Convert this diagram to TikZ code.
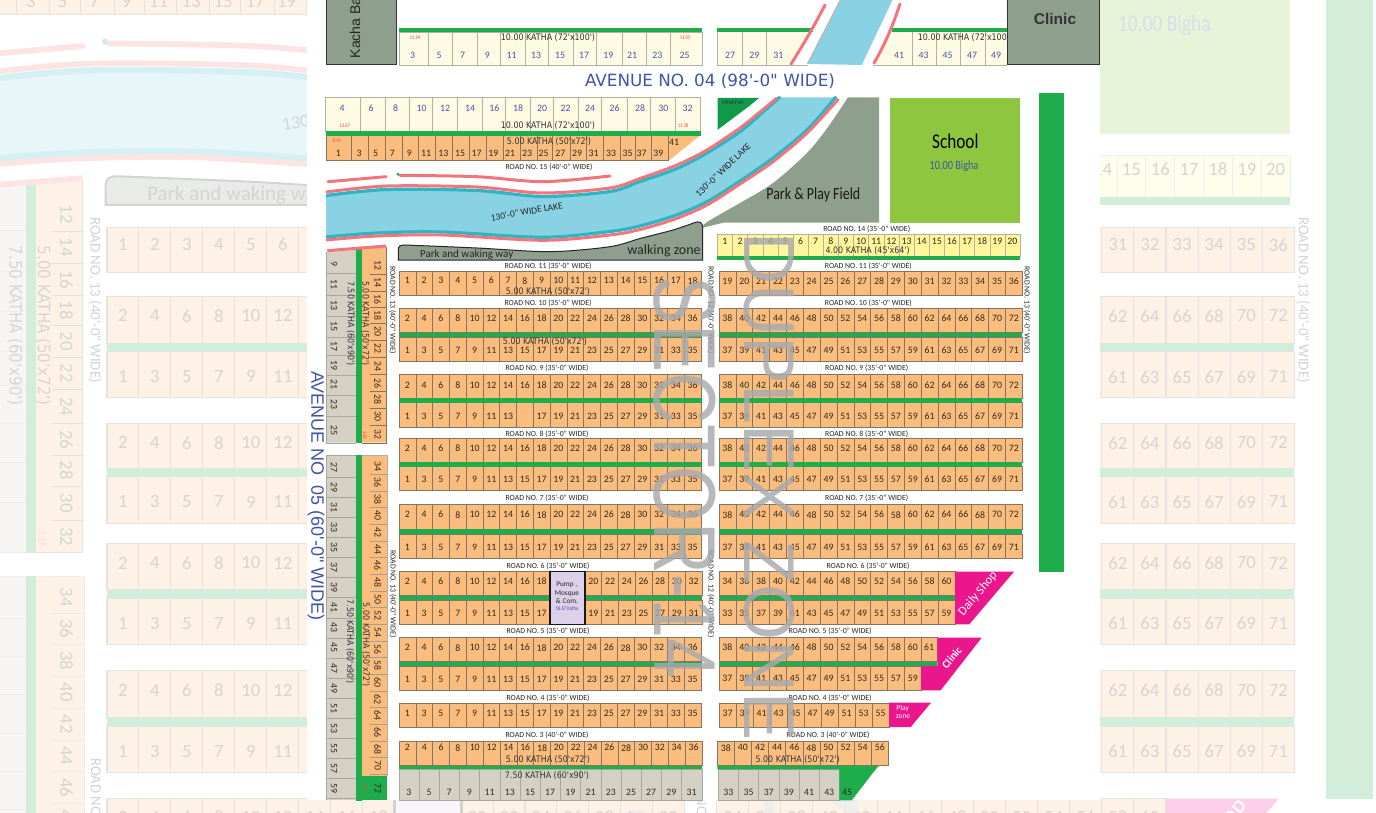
\documentclass[tikz,border=0pt]{standalone}
\usepackage{fontspec}
\newfontfamily\carl{Carlito}
\newfontfamily\carln[FakeStretch=0.82]{Carlito}
\newfontfamily\deja[FakeStretch=0.88]{DejaVu Sans}
\newfontfamily\dejaw{DejaVu Sans}
\newfontfamily\arl{Liberation Sans}
\newfontfamily\arlw[FakeStretch=0.817]{Liberation Sans}
\definecolor{orangec}{HTML}{FBBD7E}
\definecolor{orangeb}{HTML}{85745F}
\definecolor{creamc}{HTML}{FDFBE3}
\definecolor{creamb}{HTML}{B3B2A0}
\definecolor{grayc}{HTML}{D5D0C4}
\definecolor{grayb}{HTML}{A9A69A}
\definecolor{yellowc}{HTML}{FFF59B}
\definecolor{greenc}{HTML}{1FAD4B}
\definecolor{darkgreen}{HTML}{0F9A4A}
\definecolor{parkc}{HTML}{8F9F8E}
\definecolor{schoolc}{HTML}{8FC63F}
\definecolor{lakec}{HTML}{88D2E3}
\definecolor{tealc}{HTML}{2DB5C2}
\definecolor{pinkl}{HTML}{F2757B}
\definecolor{magc}{HTML}{EC168C}
\definecolor{lavc}{HTML}{DCD0EA}
\definecolor{bluet}{HTML}{3F55A5}
\definecolor{blueno}{HTML}{4A55A2}
\definecolor{numc}{HTML}{33291C}
\definecolor{redt}{HTML}{EE3F34}
\definecolor{wmark}{HTML}{A7A9AC}
\def\lwf{1}
\tikzset{
  x=1pt,y=-1pt,
  cellO/.style={fill=orangec,draw=orangeb,line width=\lwf*0.55pt},
  cellY/.style={fill=yellowc,draw=creamb,line width=\lwf*0.4pt},
  cellG/.style={fill=grayc,draw=grayb,line width=\lwf*0.4pt},
  cellC/.style={fill=creamc,draw=creamb,line width=\lwf*0.5pt},
  numf/.style={font=\carl\fontsize{9.8}{10}\selectfont,text=numc,inner sep=0pt},
  numb/.style={font=\carl\fontsize{9.8}{10}\selectfont,text=blueno,inner sep=0pt},
  redf/.style={font=\carln\fontsize{5.5}{6}\selectfont,text=redt,inner sep=0pt},
  roadf/.style={font=\carl\fontsize{7.8}{8}\selectfont,text=black!85,inner sep=0pt},
  kathaf/.style={font=\deja\fontsize{9}{9}\selectfont,text=black!80,inner sep=0pt},
  greenbar/.style={fill=greenc},
  pinkline/.style={draw=pinkl,line width=\lwf*3pt,line cap=round},
  tealline/.style={draw=tealc,line width=\lwf*3.2pt},
  wmtext/.style={font=\arlw\fontsize{88}{88}\selectfont,text=wmark,text opacity=.82,inner sep=0pt,rotate=-90},
  wmtextb/.style={font=\arl\fontsize{72}{72}\selectfont,text=wmark,text opacity=.82,inner sep=0pt,rotate=-90},
}
% style, x0, width, y0, y1, first, step, count, number y
\newcommand\cellrow[9]{%
  \foreach \k in {1,...,#8}{%
    \pgfmathsetmacro\xa{#2+(\k-1)*#3}%
    \pgfmathsetmacro\xb{#2+\k*#3}%
    \pgfmathsetmacro\xc{#2+(\k-.5)*#3}%
    \pgfmathtruncatemacro\nn{#6+(\k-1)*#7}%
    \path[#1] (\xa,#4) rectangle (\xb,#5);
    \node[numf] at (\xc,#9) {\nn};
  }}
\def\upperpink{(326,192) (387,186) (477,187) (543,193) (610,188) (640,178.5) (677,165) (707,150) (740,128) (760,112) (777,98)}
\def\upperteal{(326,195.5) (387,189.5) (477,190.5) (543,196.5) (610,191.5) (640,181.5) (677,168.5) (707,153) (740,131.7) (762,113) (779.5,97.5)}
\def\lowerteal{(326,237) (377,233) (443,232) (543,237.3) (610,231.5) (640,226) (675,215.5) (707,201.7) (740,181) (773,158) (807,130) (835.5,97.5)}
\def\lowertealr{(835.5,97.5) (807,130) (773,158) (740,181) (707,201.7) (675,215.5) (640,226) (610,231.5) (543,237.3) (443,232) (377,233) (326,237)}
\def\lowerpink{(326,240) (377,236) (443,235) (543,240.3) (610,235) (640,229.5) (675,219) (707,205) (740,184) (773,161.7) (807,133) (838.5,99)}
\newcommand\drawplan{%
  % top row, left part
  \fill[creamc] (399,32) rectangle (702,65);
  \draw[creamb,line width=\lwf*.6pt] (399,32) rectangle (702,65);
  \foreach \x in {428.3,452.7,477.3,500.7,525.3,548.7,573.3,596.7,622.3,646.3,670.7}
    \draw[creamb,line width=\lwf*.5pt] (\x,32) -- (\x,65);
  \fill[greenbar] (399,27.7) rectangle (702,32);
  \foreach \n/\x in {3/412.7,5/439,7/462.7,9/487.3,11/511.7,13/536,15/560,17/584,19/608.3,21/632,23/657.3,25/684.7}
    \node[numb] at (\x,55) {\n};
  \node[redf] at (415,37.7) {11.94};
  \node[redf] at (685,37.7) {13.05};
  \node[kathaf] (ka) at (548,38) {10.00 KATHA (72'x100')};
  % top row, right part
  \fill[creamc] (717.3,32) -- (808,32) -- (790,65) -- (717.3,65) -- cycle;
  \draw[creamb,line width=\lwf*.5pt] (808,65) -- (717.3,65) -- (717.3,32);
  \fill[creamc] (891,32) -- (1007,32) -- (1007,65) -- (873,65) -- cycle;
  \draw[creamb,line width=\lwf*.5pt] (873,65) -- (1007,65);
  \foreach \x in {742.3,766.7}
    \draw[creamb,line width=\lwf*.5pt] (\x,32) -- (\x,65);
  \foreach \x in {912,936.7,960,985}
    \draw[creamb,line width=\lwf*.5pt] (\x,32) -- (\x,65);
  \fill[greenbar] (717.3,27.7) rectangle (812.7,32);
  \fill[greenbar] (891.7,27.7) rectangle (1007,32);
  \foreach \n/\x in {27/730,29/754.3,31/778.3,41/899,43/923.7,45/947.7,47/972,49/996}
    \node[numb] at (\x,55) {\n};
  \node[kathaf,anchor=west] (kb) at (917.7,38) {10.00 KATHA (72'x100')};
  % upper arm of the lake
  \fill[lakec] (841.7,-1) -- (893,-1) -- (861.7,65) -- (808,64) -- cycle;
  \draw[gray!55,line width=\lwf*1.5pt] (841,-1) -- (807.5,64);
  \draw[pinkline] (825,5) .. controls (812,30) and (800,50) .. (791,64);
  \draw[pinkline] (900,4) .. controls (892,28) and (884,46) .. (874,63);
  % boxes
  \draw[fill=parkc,draw=black!80,line width=\lwf*1pt] (326,-3) rectangle (396.7,64.7);
  \node[font=\arl\fontsize{14}{14}\selectfont,text=black!85,rotate=90,anchor=west,inner sep=0pt] (kacha) at (355,58.5) {Kacha Ba};
  \draw[fill=parkc,draw=black!80,line width=\lwf*1pt] (1007.3,-3) rectangle (1099,64.7);
  \node[font=\arl\bfseries\fontsize{15.5}{16}\selectfont,text=black!80,inner sep=0pt] (clinicb) at (1055,19.3) {Clinic};
  \node[font=\dejaw\fontsize{16.8}{17}\selectfont,text=bluet,inner sep=0pt] (ave4) at (710,81) {AVENUE NO. 04 (98'-0" WIDE)};
  % second row
  \path[cellC] (325.7,97.7) rectangle (700.7,131.3);
  \foreach \x in {360.7,385,409.3,432.7,457.7,482,505.7,530,553.7,578.3,601.7,627.3,650.7,675.3}
    \draw[creamb,line width=\lwf*.5pt] (\x,97.7) -- (\x,131.3);
  \foreach \n/\x in {4/342,6/371,8/395.7,10/421.7,12/445,14/470,16/494.3,18/518,20/542,22/565.7,24/590,26/614.7,28/640,30/663.3,32/687.7}
    \node[numb] at (\x,108.3) {\n};
  \node[redf] at (344.7,126) {13.67};
  \node[redf] at (683,126) {11.38};
  \node[kathaf] (kc) at (548,126) {10.00 KATHA (72'x100')};
  % orange row under it
  \fill[orangec] (326,135.7) rectangle (668.3,160);
  \fill[orangec] (668.3,135.7) -- (700,135.7) -- (669.5,160) -- (668.3,160) -- cycle;
  \draw[orangeb,line width=\lwf*.5pt] (668.3,135.7) -- (668.3,160) -- (326,160) -- (326,135.7);
  \foreach \x in {351.7,368.7,385.3,402.7,418.7,435.7,452.7,469.3,486.7,503.7,520.7,537,552.7,570,586.7,603.7,620.7,635,651.7}
    \draw[orangeb,line width=\lwf*.45pt] (\x,135.7) -- (\x,160);
  \fill[greenbar] (325.7,131.3) rectangle (700.7,135.7);
  \foreach \n/\x in {1/338.3,3/359,5/375.7,7/392.3,9/409.3,11/426,13/443.3,15/460,17/476.7,19/493.3,21/510,23/527,25/543.7,27/560.3,29/577,31/593.7,33/611,35/627.7,37/641.7,39/658.3}
    \node[numf] at (\x,153.3) {\n};
  \node[numf] at (674,142.7) {41};
  \node[redf] at (336.7,141) {8.19};
  \node[kathaf] (kd) at (549,141.7) {5.00 KATHA (50'x72')};
  \node[roadf] (r15) at (549,166.7) {ROAD NO. 15 (40'-0" WIDE)};
  % pink strokes above the lake
  \draw[pinkline] plot[smooth] coordinates {(328,181.7) (386,176.7)};
  \draw[pinkline] plot[smooth] coordinates {(400,175.3) (477,176.7) (543,181.7) (610,176)};
  \fill[greenc] (398,174.3) circle[radius=1.6];
  % lake
  \fill[lakec] plot[smooth] coordinates {\upperteal} -- plot[smooth] coordinates {\lowertealr} -- cycle;
  \draw[tealline] plot[smooth] coordinates {\upperteal};
  \draw[tealline] plot[smooth] coordinates {\lowerteal};
  \fill[tealc] (779.5,97.5) circle[radius=1.7];
  \fill[tealc] (835.5,97.5) circle[radius=1.7];
  \draw[pinkline,line cap=butt] plot[smooth] coordinates {\upperpink};
  \draw[pinkline,line cap=butt] plot[smooth] coordinates {\lowerpink};
  \node[font=\carl\fontsize{9.5}{10}\selectfont,text=black!85,rotate=10,inner sep=0pt] (lk1) at (526.7,211.7) {130'-0" WIDE LAKE};
  \node[font=\carl\fontsize{9.5}{10}\selectfont,text=black!85,rotate=44,inner sep=0pt] (lk2) at (723,170) {130'-0" WIDE LAKE};
  % reserve
  \fill[darkgreen] (717.5,98) -- (759,98) .. controls (745,110) and (730,120) .. (717.5,130) -- cycle;
  \node[font=\carl\fontsize{7}{7}\selectfont,text=black!80,inner sep=0pt] (res) at (733,102.7) {reserve};
  % park
  \fill[parkc] plot[smooth] coordinates {(848,97.3) (828,127) (807,153) (773,183) (740,203) (707,222) (702,228)} -- (723,222.7) -- (879,222.7) -- (879,97.3) -- cycle;
  \node[font=\carln\fontsize{17}{17}\selectfont,text=black!90,inner sep=0pt] (park) at (813.3,195) {Park \& Play Field};
  % walking zone
  \draw[fill=parkc,draw=black!85,line width=\lwf*1pt] (398.3,260) -- (398.3,250) .. controls (398.3,246) and (400,245) .. (405,245) -- plot[smooth] coordinates {(405,245) (477,248) (550,251.7) (610,246.7) (640,238.5) (673,230) (695,222.5)} .. controls (699,221) and (702.7,222) .. (702.7,228) -- (702.7,260) -- cycle;
  \node[font=\carl\fontsize{11}{12}\selectfont,text=black!85,inner sep=0pt] (pw) at (466.7,255) {Park and waking way};
  \node[font=\carl\fontsize{14}{14}\selectfont,text=black!85,inner sep=0pt] (wz) at (664,251) {walking zone};
  % school
  \fill[schoolc] (890,98.3) rectangle (1020,222.7);
  \node[font=\carln\fontsize{21}{21}\selectfont,text=black,inner sep=0pt] (sch) at (955.3,141.7) {School};
  \node[font=\carln\fontsize{12.5}{12}\selectfont,text=bluet,inner sep=0pt] (big) at (954,166) {10.00 Bigha};
  % long green bar
  \fill[greenbar] (1039,93) rectangle (1063.7,571.7);
  % road 14 row
  \cellrow{cellY}{717.3}{15.135}{234}{256}{1}{1}{20}{241.3}
  \fill[greenbar] (717.3,256) rectangle (1020,260);
  \node[kathaf] (ke) at (867.7,251) {4.00 KATHA (45'x64')};
  \node[roadf] (r14) at (866.7,229) {ROAD NO. 14 (35'-0" WIDE)};
  % road 11 rows
  \cellrow{cellO}{399}{16.78}{271.7}{295.3}{1}{1}{18}{280.7}
  \cellrow{cellO}{719}{16.85}{271.7}{295.3}{19}{1}{18}{281}
  \node[kathaf] (kf) at (548,292) {5.00 KATHA (50'x72')};
  % double rows
  \foreach \ya/\yb/\yc/\yd in {308.3/332.7/337/361.3,438/462/466.7/490.7,504.7/529/534/558,637.7/661.7/666/690.3}{%
    \pgfmathsetmacro\nt{\ya+10}%
    \pgfmathsetmacro\nb{\yd-11}%
    \cellrow{cellO}{399}{16.78}{\ya}{\yb}{2}{2}{18}{\nt}
    \cellrow{cellO}{399}{16.78}{\yc}{\yd}{1}{2}{18}{\nb}
    \fill[greenbar] (399,\yb) rectangle (702,\yc);
  }
  \foreach \ya/\yb/\yc/\yd in {308.3/332.7/337/361.3,438/462/466.7/490.7,504.7/529/534/558}{%
    \pgfmathsetmacro\nt{\ya+10}%
    \pgfmathsetmacro\nb{\yd-11}%
    \cellrow{cellO}{719}{16.85}{\ya}{\yb}{38}{2}{18}{\nt}
    \cellrow{cellO}{719}{16.85}{\yc}{\yd}{37}{2}{18}{\nb}
    \fill[greenbar] (719,\yb) rectangle (1022,\yc);
  }
  % road 9 block: plot 15 prints no number
  \cellrow{cellO}{399}{16.78}{374.7}{398.3}{2}{2}{18}{385}
  \cellrow{cellO}{399}{16.78}{402.7}{427.3}{1}{2}{7}{416}
  \path[cellO] (516.46,402.7) rectangle (533.24,427.3);
  \cellrow{cellO}{533.24}{16.78}{402.7}{427.3}{17}{2}{10}{416}
  \fill[greenbar] (399,398.3) rectangle (702,402.7);
  \cellrow{cellO}{719}{16.85}{374.7}{398.3}{38}{2}{18}{385}
  \cellrow{cellO}{719}{16.85}{402.7}{427.3}{37}{2}{18}{416}
  \fill[greenbar] (719,398.3) rectangle (1022,402.7);
  \node[kathaf] (kg) at (545,341.5) {5.00 KATHA (50'x72')};
  % road 6 block
  \cellrow{cellO}{399}{16.78}{571.7}{595.7}{2}{2}{9}{581.5}
  \cellrow{cellO}{585}{16.71}{571.7}{595.7}{20}{2}{7}{581.5}
  \cellrow{cellO}{399}{16.78}{600}{624.3}{1}{2}{9}{613}
  \cellrow{cellO}{585}{16.71}{600}{624.3}{19}{2}{7}{613}
  \fill[greenbar] (399,595.7) rectangle (550,600);
  \fill[greenbar] (585,595.7) rectangle (702,600);
  \draw[fill=lavc,draw=black!90,line width=\lwf*1.3pt] (550,571.7) rectangle (585,624.3);
  \node[font=\carl\fontsize{7.3}{8}\selectfont,text=black!85,inner sep=0pt] (pu1) at (566.7,585) {Pump ,};
  \node[font=\carl\fontsize{7.3}{8}\selectfont,text=black!85,inner sep=0pt] (pu2) at (567,593.3) {Mosque};
  \node[font=\carl\fontsize{7.3}{8}\selectfont,text=black!85,inner sep=0pt] (pu3) at (567,601.3) {\& Com.};
  \node[font=\carln\fontsize{5.8}{6}\selectfont,text=bluet,inner sep=0pt] (pu4) at (567,609) {16.67 Katha};
  \cellrow{cellO}{719}{16.85}{571.7}{595.7}{34}{2}{14}{581.5}
  \cellrow{cellO}{719}{16.85}{600}{624.3}{33}{2}{14}{613}
  \fill[greenbar] (719,595.7) rectangle (955.5,600);
  \fill[magc] (955,571.7) -- (1014,571.7) -- (969.3,624.3) -- (955,624.3) -- cycle;
  \node[font=\carl\fontsize{12.5}{12}\selectfont,text=white,rotate=50,inner sep=0pt] (ds) at (978,594) {Daily Shop};
  % road 5 block, right
  \cellrow{cellO}{719}{16.85}{637.7}{661.7}{38}{2}{12}{647}
  \path[cellO] (921.2,637.7) rectangle (937.5,661.7);
  \node[numf] at (929,647) {61};
  \cellrow{cellO}{719}{16.85}{666}{690.3}{37}{2}{12}{678.5}
  \fill[greenbar] (719,661.7) rectangle (937.3,666);
  \fill[magc] (937.3,637.7) -- (981.7,637.7) -- (940.7,690.3) -- (921,690.3) -- (921,666) -- (937.3,666) -- cycle;
  \node[font=\carl\bfseries\fontsize{11}{11}\selectfont,text=white,rotate=50,inner sep=0pt] (cl2) at (951.7,657.7) {Clinic};
  % road 4
  \cellrow{cellO}{399}{16.78}{703}{727.3}{1}{2}{18}{713}
  \cellrow{cellO}{719}{17}{703}{727.3}{37}{2}{10}{713}
  \fill[magc] (889,702.7) -- (931,702.7) -- (910.7,727) -- (889,727) -- cycle;
  \node[font=\carl\fontsize{7.5}{8}\selectfont,text=white,inner sep=0pt] (pz1) at (902.7,708) {Play};
  \node[font=\carl\fontsize{7.5}{8}\selectfont,text=white,inner sep=0pt] (pz2) at (903,716.7) {zone};
  % road 3
  \cellrow{cellO}{399}{16.83}{741.3}{765.7}{2}{2}{18}{747.7}
  \cellrow{cellG}{398.7}{20.2}{769.3}{800.3}{3}{2}{15}{792}
  \fill[greenbar] (399,765.7) rectangle (702,769.3);
  \node[kathaf] (kh) at (548,760) {5.00 KATHA (50'x72')};
  \node[kathaf] (ki) at (547,775.7) {7.50 KATHA (60'x90')};
  \cellrow{cellO}{717.3}{17.1}{741.3}{765.7}{38}{2}{10}{747.7}
  \cellrow{cellG}{718.3}{20.17}{769.3}{800.3}{33}{2}{6}{792}
  \fill[greenbar] (717.3,765.7) -- (879,765.7) -- (875.7,769.3) -- (851.7,800.3) -- (839.3,800.3) -- (839.3,769.3) -- (717.3,769.3) -- cycle;
  \node[numf] at (847,792) {45};
  \node[kathaf] (kj) at (797.7,760) {5.00 KATHA (50'x72')};
  % road labels
  \foreach \rn/\yy in {11/266,10/303}{%
    \node[roadf] at (548,\yy) {ROAD NO. \rn\ (35'-0" WIDE)};
    \node[roadf] at (868.3,\yy) {ROAD NO. \rn\ (35'-0" WIDE)};
  }
  \foreach \rn/\yy in {9/368,8/433.7,7/497.7}{%
    \node[roadf] at (547,\yy) {ROAD NO. \rn\ (35'-0" WIDE)};
    \node[roadf] at (866.7,\yy) {ROAD NO. \rn\ (35'-0" WIDE)};
  }
  \node[roadf] at (548,566) {ROAD NO. 6 (35'-0" WIDE)};
  \node[roadf] at (868,566) {ROAD NO. 6 (35'-0" WIDE)};
  \node[roadf] at (548,630.7) {ROAD NO. 5 (35'-0" WIDE)};
  \node[roadf] at (830,630.7) {ROAD NO. 5 (35'-0" WIDE)};
  \node[roadf] at (548,697.7) {ROAD NO. 4 (35'-0" WIDE)};
  \node[roadf] at (830,697.7) {ROAD NO. 4 (35'-0" WIDE)};
  \node[roadf] at (547,734.7) {ROAD NO. 3 (40'-0" WIDE)};
  \node[roadf] at (828,734.7) {ROAD NO. 3 (40'-0" WIDE)};
  \node[roadf,rotate=-90] at (392.7,310) {ROAD NO. 13 (40'-0" WIDE)};
  \node[roadf,rotate=-90] at (393,594) {ROAD NO. 13 (40'-0" WIDE)};
  \node[roadf,rotate=-90] at (711,310) {ROAD NO. 12 (40'-0" WIDE)};
  \node[roadf,rotate=-90] at (711,594) {ROAD NO. 12 (40'-0" WIDE)};
  \node[roadf,rotate=-90] at (1027,310) {ROAD NO. 13 (40'-0" WIDE)};
  % west column, upper block
  \fill[grayc] (326,252) -- (356.3,250) -- (356.3,442.7) -- (326,442.7) -- cycle;
  \draw[grayb,line width=\lwf*.4pt] (326,252) -- (326,442.7) -- (356.3,442.7);
  \foreach \y in {273.3,295,316,336.7,355,375,395,416}
    \draw[grayb,line width=\lwf*.4pt] (326,\y) -- (356.3,\y);
  \fill[orangec] (361.7,249) -- (386,247) -- (386,442.7) -- (361.7,442.7) -- cycle;
  \draw[orangeb,line width=\lwf*.4pt] (386,247) -- (386,442.7) -- (361.7,442.7);
  \foreach \y in {273.7,290.8,307.3,323.5,340,357,374.5,391.3,408,425.5}
    \draw[orangeb,line width=\lwf*.4pt] (370,\y) -- (386,\y);
  \fill[greenbar] (356.3,248) rectangle (361.7,442.7);
  \draw[pinkline,line cap=butt] (327.3,250.7) -- (386,246);
  \foreach \n/\y in {9/264,11/284.3,13/305.7,15/326,17/346,19/365,21/384.7,23/404.3,25/430}
    \node[numf,rotate=-90] at (334,\y) {\n};
  \foreach \n/\y in {12/265,14/282.3,16/299.3,18/315.3,20/331.7,22/348.3,24/366,26/383.3,28/399.3,30/416.7,32/434.3}
    \node[numf,rotate=-90] at (377.7,\y) {\n};
  \node[kathaf,rotate=-90] (kk) at (350.7,323.5) {7.50 KATHA (60'x90')};
  \node[kathaf,rotate=-90] (kl) at (365.5,323.5) {5.00 KATHA (50'x72')};
  \node[redf,rotate=-90] at (365,435) {1.19};
  % west column, lower block
  \fill[grayc] (326,455) rectangle (356.3,800);
  \draw[grayb,line width=\lwf*.4pt] (326,800) -- (326,455) -- (356.3,455);
  \fill[orangec] (361.7,455) rectangle (387.3,776);
  \draw[orangeb!60,line width=\lwf*.4pt] (361.7,455) -- (387.3,455) -- (387.3,776);
  \foreach \k in {0,...,16} {%
    \pgfmathsetmacro\yy{467+\k*20.1}%
    \pgfmathtruncatemacro\nn{27+2*\k}%
    \node[numf,rotate=-90] at (334,\yy) {\nn};
    \pgfmathsetmacro\yl{\yy+10.05}%
    \draw[grayb,line width=\lwf*.4pt] (326,\yl) -- (356.3,\yl);
  }
  \foreach \k in {0,...,18} {%
    \pgfmathsetmacro\yy{466+\k*16.65}%
    \pgfmathtruncatemacro\nn{34+2*\k}%
    \node[numf,rotate=-90] at (377.7,\yy) {\nn};
    \pgfmathsetmacro\yl{\yy+8.3}%
    \draw[orangeb!70,line width=\lwf*.35pt] (370,\yl) -- (387.3,\yl);
  }
  \fill[greenc] (360,776) rectangle (387.3,800);
  \node[numf,rotate=-90] at (377.7,788.3) {72};
  \node[redf,rotate=-90] at (365.5,788.3) {1.29};
  \fill[greenbar] (356.3,455) rectangle (361.7,800.5);
  \node[kathaf,rotate=-90] (km) at (350,642) {7.50 KATHA (60'x90')};
  \node[kathaf,rotate=-90] (kn) at (366,645) {5.00 KATHA (50'x72')};
  \node[font=\arl\fontsize{18}{18}\selectfont,text=bluet,rotate=-90,inner sep=0pt] (ave5) at (316,496) {AVENUE NO\ \ 05 (60'-0" WIDE)};
  % zone names over the plan
  \node[wmtext] (wm1) at (684.5,477.5) {SECTOR-14};
  \node[wmtextb] (wm2) at (769,486.5) {DUPLEX ZONE};
}
\begin{document}
\begin{tikzpicture}
\useasboundingbox (0,0) rectangle (1376,813);
\begin{scope}
  \clip (0,0) rectangle (1376,813);
  \begin{scope}[shift={(-653.1,-290.5)},scale=1.905,every node/.append style={transform shape}]
    \def\lwf{1.905}
    \drawplan
  \end{scope}
  \fill[white,opacity=.8] (0,0) rectangle (1376,813);
  \fill[white] (307,0) rectangle (1100,800);
  \drawplan
\end{scope}
\end{tikzpicture}
\end{document}
